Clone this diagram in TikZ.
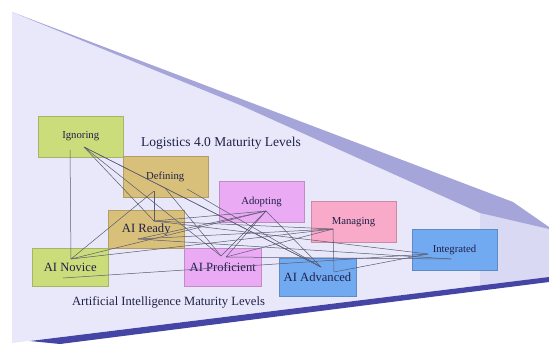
\documentclass[tikz,border=0pt]{standalone}
\usepackage{fontspec}
\setmainfont{Liberation Serif}
\definecolor{funnel}{HTML}{E8E8FA}
\definecolor{funnelend}{HTML}{D9D9F3}
\definecolor{rim}{HTML}{A5A5DA}
\definecolor{base}{HTML}{4545A6}
\definecolor{ink}{HTML}{202048}
\definecolor{wire}{HTML}{5A5A70}
\definecolor{lvgreen}{HTML}{CBDD7B}
\definecolor{lvtan}{HTML}{D9C07A}
\definecolor{lvviolet}{HTML}{EAABF4}
\definecolor{lvpink}{HTML}{F8AAC8}
\definecolor{lvblue}{HTML}{72AAF2}
\tikzset{
  lvl/.style={draw=#1!82!black, fill=#1, line width=0.5pt, inner sep=0pt, text=ink},
  logbox/.style={lvl=#1, minimum width=85pt, minimum height=41pt,
    font=\fontsize{10.7}{12}\selectfont},
  aibox/.style={lvl=#1, minimum width=76.5pt, minimum height=38pt,
    font=\fontsize{12.6}{14}\selectfont},
  link/.style={draw=wire, line width=0.5pt},
  caption/.style={text=ink, inner sep=0pt}
}
\begin{document}
\begin{tikzpicture}[x=1pt,y=-1pt]
\useasboundingbox (0,0) rectangle (549,343);

% funnel body
\fill[funnel] (12,12) -- (240,105) -- (480,213) -- (549,229) -- (549,277) -- (12,343) -- cycle;
\fill[funnelend] (480,213) -- (549,229) -- (549,277) -- (480,285.5) -- cycle;
% upper rim
\fill[rim] (12,12) -- (513,202) -- (549,227) -- (549,229) -- (480,213) -- (240,105) -- cycle;
% lower rim
\fill[base] (30,341) -- (549,277) -- (549,282) -- (60,344) -- cycle;

% Logistics 4.0 levels
\node[logbox=lvgreen]  (ign) at (80.75,136.5) {Ignoring};
\node[logbox=lvtan]    (def) at (165.25,177)  {Defining};
\node[logbox=lvviolet] (ado) at (261.5,201.5) {Adopting};
\node[logbox=lvpink]   (man) at (353.5,222)   {Managing};
\node[logbox=lvblue]   (int) at (454.5,249.5) {Integrated};

% AI levels
\node[aibox=lvtan]    (rdy) at (146.25,229.5) {AI Ready};
\node[aibox=lvgreen]  (nov) at (70.25,267)    {AI Novice};
\node[aibox=lvviolet] (pro) at (222.75,267)   {AI Proficient};
\node[aibox=lvblue]   (adv) at (317.5,277.5)  {AI Advanced};

% anchor points of the links
\coordinate (i1) at (84,147);
\coordinate (i2) at (70,150);
\coordinate (d1) at (154,191);
\coordinate (d2) at (165,188);
\coordinate (d3) at (187,189);
\coordinate (r1) at (154,221);
\coordinate (r2) at (138,239);
\coordinate (n1) at (71,259);
\coordinate (n2) at (63,278);
\coordinate (a1) at (266,211);
\coordinate (m1) at (333,229);
\coordinate (m2) at (334,272);
\coordinate (p1) at (221,256);
\coordinate (p2) at (226,257);
\coordinate (v1) at (321,267);
\coordinate (t1) at (428,254);
\coordinate (t2) at (451,259);

% links
\draw[link] (i2) -- (n1);
\draw[link] (i1) -- (r1);
\draw[link] (i1) -- (p1);
\draw[link] (i1) -- (v1);
\draw[link] (i1) -- (d2);
\draw[link] (d2) -- (v1);
\draw[link] (d3) -- (v1);
\draw[link] (d1) -- (n1);
\draw[link] (d1) -- (r1);
\draw[link] (d2) -- (p1);
\draw[link] (n1) -- (a1);
\draw[link] (n1) -- (m1);
\draw[link] (n2) -- (t1);
\draw[link] (r1) -- (a1);
\draw[link] (r1) -- (m1);
\draw[link] (r1) -- (t1);
\draw[link] (r2) -- (a1);
\draw[link] (r2) -- (m1);
\draw[link] (r2) -- (t2);
\draw[link] (a1) -- (p1);
\draw[link] (a1) -- (p2);
\draw[link] (a1) -- (v1);
\draw[link] (m1) -- (p2);
\draw[link] (m1) -- (m2);
\draw[link] (m2) -- (t1);
\draw[link] (p2) -- (t2);

% captions
\node[caption, font=\fontsize{13.5}{15}\selectfont] (logcap) at (221,143) {Logistics 4.0 Maturity Levels};
\node[caption, font=\fontsize{12.6}{14}\selectfont] (aicap) at (168.5,302) {Artificial Intelligence Maturity Levels};
\end{tikzpicture}
\end{document}
